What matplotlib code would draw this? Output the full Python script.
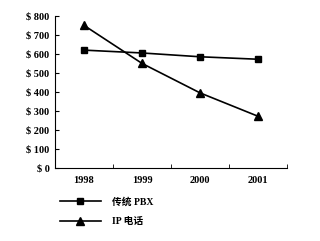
import matplotlib.pyplot as plt
import numpy as np

years = ["1998", "1999", "2000", "2001"]
pbx = [620, 605, 585, 572]
ip_phone = [750, 550, 395, 272]
yticks = [0, 100, 200, 300, 400, 500, 600, 700, 800]

plt.rcParams["font.family"] = ["Liberation Serif", "Noto Sans CJK SC"]

fig = plt.figure(figsize=(3.2, 2.41), dpi=100)
ax = fig.add_axes([0.172, 0.303, 0.725, 0.631])

x = np.arange(len(years))
ax.plot(x, pbx, color="black", lw=1.2, marker="s", ms=5, label="传统 PBX")
ax.plot(x, ip_phone, color="black", lw=1.2, marker="^", ms=6, label="IP 电话")

ax.set_xlim(-0.5, len(years) - 0.5)
ax.set_ylim(0, 800)
ax.set_xticks(x)
ax.set_xticklabels(years, fontsize=7.5, fontweight="bold")
ax.set_xticks(np.arange(len(years) + 1) - 0.5, minor=True)
ax.tick_params(axis="x", which="major", length=0, pad=6)
ax.tick_params(axis="x", which="minor", length=3, direction="in")
ax.set_yticks(yticks)
ax.set_yticklabels(["$ %d" % v for v in yticks], fontsize=7.5, fontweight="bold")
ax.tick_params(axis="y", length=3, direction="in", pad=4)

ax.spines["top"].set_visible(False)
ax.spines["right"].set_visible(False)

fig.legend(loc="upper left", bbox_to_anchor=(0.16, 0.22), frameon=False,
           handlelength=4.2, labelspacing=1.1, handletextpad=1.2,
           prop={"family": ["Liberation Serif", "Noto Sans CJK SC"], "weight": "bold", "size": 7})

fig.savefig("out.png", dpi=100)
